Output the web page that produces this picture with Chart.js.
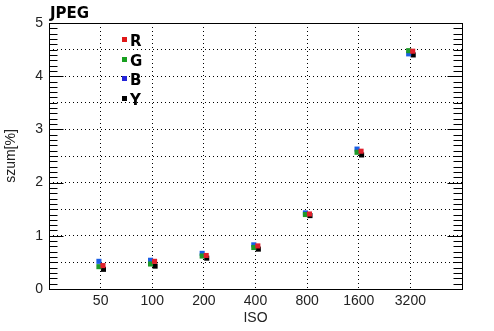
<!DOCTYPE html>
<html>
<head>
<meta charset="utf-8">
<script src="https://cdn.jsdelivr.net/npm/chart.js@4/dist/chart.umd.min.js"></script>
<style>
    html, body { margin: 0; padding: 0; background: #fff; }
    canvas { display: block; }
</style>
</head>
<body>
<canvas id="chart" width="494" height="331"></canvas>
<script>
// ISO categories
const isoLabels = ['50', '100', '200', '400', '800', '1600', '3200'];

// noise per channel, in %
const noiseR = [0.44, 0.52, 0.63, 0.81, 1.41, 2.59, 4.47];
const noiseG = [0.42, 0.47, 0.62, 0.78, 1.40, 2.57, 4.48];
const noiseB = [0.52, 0.54, 0.67, 0.83, 1.43, 2.63, 4.42];
const noiseY = [0.37, 0.43, 0.58, 0.75, 1.38, 2.52, 4.40];

const yTicks = [0, 1, 2, 3, 4, 5];

// series look: colour, legend colour, small side shift so markers don't hide each other
const series = [
    { label: 'R', values: noiseR, color: '#e0202c', legendColor: '#e01818', shift: 0.045 },
    { label: 'G', values: noiseG, color: '#1e9a2a', legendColor: '#18a020', shift: -0.033 },
    { label: 'B', values: noiseB, color: '#1a5fe6', legendColor: '#2424d8', shift: -0.033 },
    { label: 'Y', values: noiseY, color: '#000000', legendColor: '#000000', shift: 0.055 }
];

const labelFont = { family: '"Liberation Sans", Arial, sans-serif', size: 14 };

// frame, inner ticks, title and legend
const decorations = {
    id: 'decorations',
    afterDraw(chart) {
        const ctx = chart.ctx;
        const { left, right, top, bottom } = chart.chartArea;
        const yScale = chart.scales.y;
        const l = Math.round(left) + 0.5, r = Math.round(right) + 0.5;
        const t = Math.round(top) + 0.5, b = Math.round(bottom) + 0.5;

        ctx.save();
        ctx.strokeStyle = '#000';
        ctx.lineWidth = 1;
        ctx.setLineDash([]);
        ctx.strokeRect(l, t, r - l, b - t);

        // minor ticks every 0.1, long ones on whole numbers
        ctx.beginPath();
        for (let i = 0; i <= 50; i++) {
            const y = Math.round(yScale.getPixelForValue(i / 10)) + 0.5;
            const major = i % 10 === 0;
            ctx.moveTo(l, y);
            ctx.lineTo(l + (major ? 14 : 8), y);
            ctx.moveTo(r, y);
            ctx.lineTo(r - (major ? 15 : 9), y);
        }
        ctx.stroke();

        // title
        ctx.fillStyle = '#000';
        ctx.font = 'bold 15px "DejaVu Sans", Verdana, sans-serif';
        ctx.textBaseline = 'alphabetic';
        ctx.textAlign = 'left';
        ctx.fillText('JPEG', 50, 18);

        // legend
        series.forEach((s, i) => {
            const cy = 39.5 + i * 19.5;
            ctx.fillStyle = s.legendColor;
            ctx.fillRect(122, Math.round(cy - 2.5), 5, 5);
            ctx.fillStyle = '#000';
            ctx.fillText(s.label, 130, Math.round(cy + 6.5));
        });
        ctx.restore();
    }
};

new Chart(document.getElementById('chart'), {
    type: 'scatter',
    data: {
        datasets: series.map(s => ({
            label: s.label,
            data: s.values.map((v, i) => ({ x: i + 1 + s.shift, y: v })),
            backgroundColor: s.color,
            borderWidth: 0,
            pointStyle: 'rect',
            pointRadius: 3.6,
            pointHoverRadius: 3.6
        }))
    },
    options: {
        responsive: false,
        animation: false,
        events: [],
        layout: { padding: { left: 0, right: 32, top: 23, bottom: 0 } },
        plugins: {
            legend: { display: false },
            tooltip: { enabled: false },
            title: { display: false }
        },
        scales: {
            x: {
                type: 'linear',
                min: 0,
                max: 8,
                afterFit: scale => { scale.height = 42; },
                ticks: {
                    stepSize: 1,
                    autoSkip: false,
                    maxRotation: 0,
                    padding: 4,
                    color: '#222',
                    font: labelFont,
                    callback: v => isoLabels[v - 1] || ''
                },
                grid: {
                    drawTicks: false,
                    lineWidth: 1,
                    color: ctx => (ctx.tick && ctx.tick.value > 0 && ctx.tick.value < 8) ? '#000' : 'rgba(0,0,0,0)'
                },
                border: { display: false, dash: [1, 3] },
                title: { display: true, text: 'ISO', color: '#222', font: labelFont, padding: { top: 0, bottom: 4 } }
            },
            y: {
                min: 0,
                max: 5,
                afterFit: scale => { scale.width = 49; },
                afterBuildTicks: scale => {
                    const ticks = [];
                    for (let v = 0; v <= 5; v += 0.5) ticks.push({ value: v });
                    scale.ticks = ticks;
                },
                ticks: {
                    padding: 6,
                    color: '#222',
                    font: labelFont,
                    callback: v => yTicks.includes(v) ? String(v) : ''
                },
                grid: {
                    drawTicks: false,
                    lineWidth: 1,
                    color: ctx => (ctx.tick && ctx.tick.value > 0 && ctx.tick.value < 5) ? '#000' : 'rgba(0,0,0,0)'
                },
                border: { display: false, dash: [1, 3] },
                title: { display: true, text: 'szum[%]', color: '#222', font: labelFont, padding: { top: 3, bottom: 0 } }
            }
        }
    },
    plugins: [decorations]
});
</script>
</body>
</html>
